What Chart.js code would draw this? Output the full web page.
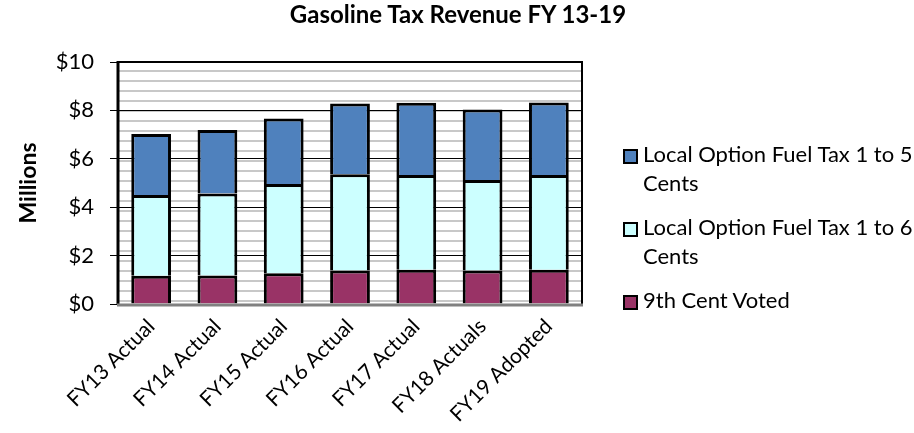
<!DOCTYPE html>
<html lang="en">

<head>
    <meta charset="UTF-8">
    <title>Gasoline Tax Revenue FY 13-19</title>
    <style>
        body {
            margin: 0;
            padding: 0;
            background: #fff;
            overflow: hidden;
            font-family: Lato, sans-serif;
        }

        .wrap {
            position: relative;
            width: 914px;
            height: 433px;
            overflow: hidden;
        }

        .title {
            position: absolute;
            top: 0;
            left: 258px;
            width: 400px;
            text-align: center;
            font-weight: bold;
            font-size: 24px;
            line-height: 1.15;
            color: #000;
        }

        .legend {
            position: absolute;
            left: 623px;
            top: 140px;
            width: 300px;
        }

        .legend-item {
            display: flex;
            align-items: flex-start;
            margin-bottom: 16px;
            font-size: 22px;
            line-height: 28.5px;
            color: #000;
        }

        .legend-item span:last-child {
            width: 272px;
        }

        .legend-box {
            flex: none;
            width: 11px;
            height: 11px;
            border: 2px solid #000;
            margin: 9px 5px 0 0;
        }
    </style>
</head>

<body>
    <div class="wrap">
        <canvas id="taxChart" width="914" height="433"></canvas>
        <div class="title">Gasoline Tax Revenue FY 13-19</div>
        <div class="legend" id="legend"></div>
    </div>
    <script src="https://cdn.jsdelivr.net/npm/chart.js"></script>
    <script>
        const categories = ['FY13 Actual', 'FY14 Actual', 'FY15 Actual', 'FY16 Actual', 'FY17 Actual', 'FY18 Actuals', 'FY19 Adopted'];
        const ninthCent = [1.17, 1.18, 1.27, 1.38, 1.42, 1.38, 1.42];
        const localOption6 = [3.33, 3.39, 3.69, 3.98, 3.91, 3.74, 3.91];
        const localOption5 = [2.52, 2.62, 2.71, 2.92, 2.99, 2.92, 3.00];
        const yTicks = [0, 2, 4, 6, 8, 10];

        // fundo listrado da área do gráfico (padrão do Excel)
        const stripes = {
            id: 'stripes',
            beforeDraw(chart) {
                const { ctx, chartArea: a } = chart;
                ctx.save();
                ctx.fillStyle = '#c8c8c8';
                for (let y = a.top + 8; y < a.bottom; y += 10) {
                    ctx.fillRect(a.left, y, a.right - a.left, 2);
                }
                ctx.restore();
            }
        };

        const frame = {
            id: 'frame',
            afterDraw(chart) {
                const { ctx, chartArea: a } = chart;
                ctx.save();
                ctx.strokeStyle = '#000';
                ctx.lineWidth = 2;
                ctx.beginPath();
                ctx.moveTo(a.left, a.top);
                ctx.lineTo(a.right, a.top);
                ctx.lineTo(a.right, a.bottom);
                ctx.stroke();
                ctx.lineWidth = 3;
                ctx.beginPath();
                ctx.moveTo(a.left, a.top - 1);
                ctx.lineTo(a.left, a.bottom);
                ctx.stroke();
                ctx.strokeStyle = '#808080';
                ctx.beginPath();
                ctx.moveTo(a.left - 1, a.bottom + 1);
                ctx.lineTo(a.right + 1, a.bottom + 1);
                ctx.stroke();
                ctx.restore();
            }
        };

        const chart = new Chart(document.getElementById('taxChart'), {
            type: 'bar',
            data: {
                labels: categories,
                datasets: [{
                    label: '9th Cent Voted',
                    data: ninthCent,
                    backgroundColor: '#993366'
                }, {
                    label: 'Local Option Fuel Tax 1 to 6 Cents',
                    data: localOption6,
                    backgroundColor: '#ccffff'
                }, {
                    label: 'Local Option Fuel Tax 1 to 5 Cents',
                    data: localOption5,
                    backgroundColor: '#4f81bd'
                }]
            },
            options: {
                responsive: false,
                animation: false,
                layout: { padding: { top: 62, right: 332, left: 0, bottom: 0 } },
                datasets: {
                    bar: {
                        borderColor: '#000',
                        borderWidth: { top: 3, left: 3, right: 3, bottom: 0 },
                        borderSkipped: false,
                        categoryPercentage: 1,
                        barPercentage: 0.6
                    }
                },
                plugins: {
                    legend: { display: false },
                    title: { display: false },
                    tooltip: { enabled: false }
                },
                scales: {
                    x: {
                        stacked: true,
                        grid: { display: false },
                        border: { display: false },
                        afterFit(scale) { scale.height = 129; },
                        ticks: {
                            color: '#000',
                            minRotation: 45,
                            maxRotation: 45,
                            padding: 2,
                            font: { family: 'Lato', size: 21 }
                        }
                    },
                    y: {
                        stacked: true,
                        min: 0,
                        max: 10,
                        afterFit(scale) { scale.width = 118; },
                        afterBuildTicks(scale) { scale.ticks = yTicks.map(v => ({ value: v })); },
                        grid: { color: '#000', lineWidth: 1, tickLength: 8 },
                        border: { display: false },
                        ticks: {
                            color: '#000',
                            padding: 16,
                            font: { family: 'Lato', size: 22 },
                            callback: v => '$' + v
                        },
                        title: {
                            display: true,
                            text: 'Millions',
                            color: '#000',
                            padding: { top: 15, bottom: 0 },
                            font: { family: 'Lato', size: 23, weight: 'bold' }
                        }
                    }
                }
            },
            plugins: [stripes, frame]
        });

        // legenda em HTML (texto quebra em duas linhas como no original)
        const legend = document.getElementById('legend');
        chart.data.datasets.slice().reverse().forEach(ds => {
            const item = document.createElement('div');
            item.className = 'legend-item';
            item.innerHTML = '<span class="legend-box" style="background:' + ds.backgroundColor + '"></span><span>' + ds.label + '</span>';
            legend.appendChild(item);
        });
    </script>
</body>

</html>
